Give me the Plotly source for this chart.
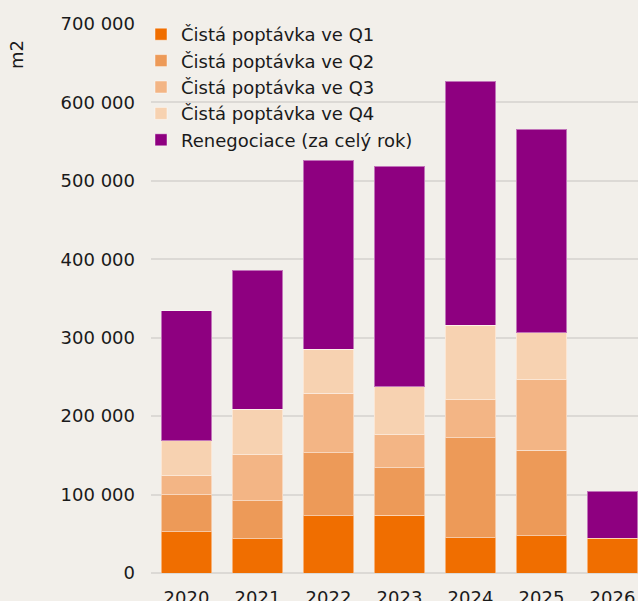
import plotly.graph_objects as go

years = ["2020", "2021", "2022", "2023", "2024", "2025", "2026"]
q1 = [52600, 43700, 73100, 73500, 45000, 47600, 44200]
q2 = [46900, 48500, 80300, 60800, 127500, 109200, None]
q3 = [24200, 58700, 76100, 42100, 48100, 89300, None]
q4 = [45000, 58200, 56100, 61200, 95200, 60300, None]
reneg = [165700, 177200, 241000, 281300, 311500, 259700, 60300]

names = ["Čistá poptávka ve Q1", "Čistá poptávka ve Q2", "Čistá poptávka ve Q3",
         "Čistá poptávka ve Q4", "Renegociace (za celý rok)"]
colors = ["#f06e00", "#ed9a58", "#f3b585", "#f7d2b1", "#8e0080"]
series = [q1, q2, q3, q4, reneg]

W, H = 638, 601
L, R, T, B = 151, 0, 24, 28
FONT = "DejaVu Sans"

fig = go.Figure()
for name, col, vals in zip(names, colors, series):
    fig.add_trace(go.Bar(
        x=years, y=vals, name=name,
        marker=dict(color=col, line=dict(color="rgba(255,255,255,0.45)", width=1)),
    ))

fig.update_layout(
    width=W, height=H,
    barmode="stack", bargap=0.286,
    paper_bgcolor="#f2efea", plot_bgcolor="#f2efea",
    margin=dict(l=L, r=R, t=T, b=B, pad=0, autoexpand=False),
    font=dict(family=FONT, size=18, color="#1a1a1a"),
    legend=dict(
        x=(141 - L) / (W - L - R), xref="paper",
        y=1 - (16 - T) / (H - T - B), yref="paper",
        yanchor="top", xanchor="left",
        bgcolor="rgba(0,0,0,0)", font=dict(family=FONT, size=18, color="#1a1a1a"),
        itemwidth=30, tracegroupgap=0, traceorder="normal",
    ),
    showlegend=True,
)
fig.update_xaxes(
    type="category", range=[-0.5, 6.36], automargin=False,
    showgrid=False, showline=False, zeroline=False,
    ticks="outside", ticklen=8, tickcolor="rgba(0,0,0,0)",
    tickfont=dict(family=FONT, size=18, color="#1a1a1a"),
)
fig.update_yaxes(
    range=[0, 700000], automargin=False,
    tickvals=[0, 100000, 200000, 300000, 400000, 500000, 600000, 700000],
    ticktext=["0", "100 000", "200 000", "300 000", "400 000", "500 000", "600 000", "700 000"],
    showgrid=True, gridcolor="#dcd9d5", gridwidth=2,
    zeroline=True, zerolinecolor="#dcd9d5", zerolinewidth=2,
    showline=False, ticks="", ticklabelstandoff=15,
    tickfont=dict(family=FONT, size=18, color="#1a1a1a"),
)
fig.add_annotation(
    text="m2", textangle=-90, showarrow=False,
    xref="paper", yref="paper",
    x=(17 - L) / (W - L - R), y=1 - (55 - T) / (H - T - B),
    xanchor="center", yanchor="middle",
    font=dict(family=FONT, size=18, color="#1a1a1a"),
)
fig.write_html(
    "out.html",
    config={"displayModeBar": False},
    post_script="document.body.style.margin='0';document.body.style.background='#f2efea';document.body.style.overflow='hidden';",
)
